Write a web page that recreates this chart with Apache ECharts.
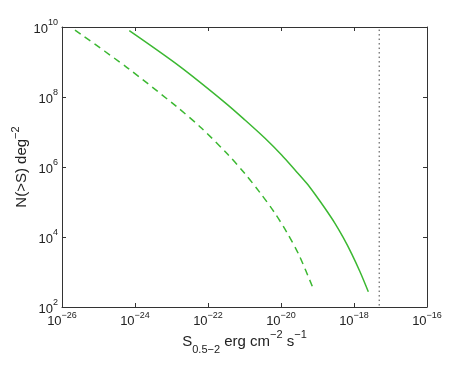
<!DOCTYPE html>
<html>
<head>
<meta charset="utf-8">
<script src="https://cdn.jsdelivr.net/npm/echarts@6/dist/echarts.min.js"></script>
<style>
html,body{margin:0;padding:0;background:#fff;}
#chart{width:471px;height:366px;}
</style>
</head>
<body>
<div id="chart"></div>
<script>
// Axis decades (exponents of 10)
var xExpMin = -26, xExpMax = -16;
var yExpMin = 2, yExpMax = 10;

// Solid curve: flux S and N(>S)
var solidS = [6.98e-25, 1.71e-23, 2.92e-22, 1.03e-21, 3.65e-21, 1.04e-20, 2.42e-20, 5.06e-20, 8.55e-20, 1.60e-19, 3.01e-19, 5.09e-19, 8.65e-19, 1.46e-18, 2.47e-18];
var solidN = [7.83e9, 7.35e8, 6.92e7, 2.20e7, 6.61e6, 2.20e6, 8.20e5, 3.42e5, 1.66e5, 6.61e4, 2.46e4, 9.55e3, 3.31e3, 1.02e3, 2.74e2];

// Dashed curve
var dashS = [2.27e-26, 5.93e-25, 1.39e-23, 6.71e-23, 3.47e-22, 1.03e-21, 2.66e-21, 6.55e-21, 1.43e-20, 3.11e-20, 8.02e-20];
var dashN = [8.20e9, 7.06e8, 5.28e7, 1.28e7, 2.31e6, 6.44e5, 1.85e5, 5.08e4, 1.38e4, 3.06e3, 2.96e2];

// Vertical dotted limit
var limitS = [4.9e-18, 4.9e-18];
var limitN = [1.1e2, 1e10];

// Log-decade axes (values are placed by their log10 on a linear value axis)
function zipLog(a, b) { return a.map(function (v, i) { return [Math.log10(v), Math.log10(b[i])]; }); }

var FONT = "'Liberation Sans', Arial, Helvetica, sans-serif";
function powLabel(e) {
  e = Math.round(e);
  return '{b|10}{s|' + (e < 0 ? '\u2212' : '') + Math.abs(e) + '}';
}
var labelRich = {
  b: { fontSize: 13, lineHeight: 17, verticalAlign: 'bottom', fontFamily: FONT, color: '#222' },
  s: { fontSize: 9, lineHeight: 10, verticalAlign: 'top', fontFamily: FONT, color: '#222' }
};
var axisLine = { show: true, onZero: false, lineStyle: { color: '#333', width: 1 } };
var axisTick = { show: true, inside: true, length: 4, lineStyle: { color: '#333', width: 1 } };

var green = '#3cb832';

var chart = echarts.init(document.getElementById('chart'), null, { renderer: 'canvas' });
chart.setOption({
  animation: false,
  backgroundColor: '#fff',
  grid: { left: 62, top: 27, right: 44, bottom: 59, containLabel: false, outerBoundsMode: 'none' },
  xAxis: [{
    type: 'value',
    min: xExpMin, max: xExpMax, interval: 2,
    axisLine: axisLine, axisTick: axisTick, splitLine: { show: false },
    axisLabel: { formatter: powLabel, rich: labelRich, margin: 4 },
    name: '{b|S}{sub|0.5\u22122}{b| erg cm}{sup|\u22122}{b| s}{sup|\u22121}',
    nameLocation: 'middle', nameGap: 22, nameMoveOverlap: false,
    nameTextStyle: {
      rich: {
        b: { fontSize: 15, lineHeight: 26, verticalAlign: 'middle', fontFamily: FONT, color: '#222' },
        sub: { fontSize: 11, lineHeight: 16, verticalAlign: 'bottom', fontFamily: FONT, color: '#222' },
        sup: { fontSize: 11, lineHeight: 14, verticalAlign: 'top', fontFamily: FONT, color: '#222' }
      }
    }
  }, {
    type: 'value', position: 'top',
    min: xExpMin, max: xExpMax, interval: 2,
    axisLine: axisLine, axisTick: axisTick, axisLabel: { show: false }, splitLine: { show: false }
  }],
  yAxis: [{
    type: 'value',
    min: yExpMin, max: yExpMax, interval: 2,
    axisLine: axisLine, axisTick: axisTick, splitLine: { show: false },
    axisLabel: { formatter: powLabel, rich: labelRich, margin: 4 },
    name: '{b|N(>S) deg}{sup|\u22122}',
    nameLocation: 'middle', nameGap: 28, nameRotate: 90, nameMoveOverlap: false,
    nameTextStyle: {
      rich: {
        b: { fontSize: 15, lineHeight: 24, verticalAlign: 'middle', fontFamily: FONT, color: '#222' },
        sup: { fontSize: 11, lineHeight: 14, verticalAlign: 'top', fontFamily: FONT, color: '#222' }
      }
    }
  }, {
    type: 'value', position: 'right',
    min: yExpMin, max: yExpMax, interval: 2,
    axisLine: axisLine, axisTick: axisTick, axisLabel: { show: false }, splitLine: { show: false }
  }],
  series: [{
    type: 'line', data: zipLog(solidS, solidN), showSymbol: false, smooth: 0.3,
    lineStyle: { color: green, width: 1.5 }
  }, {
    type: 'line', data: zipLog(dashS, dashN), showSymbol: false, smooth: 0.3,
    lineStyle: { color: green, width: 1.5, type: [7, 5] }
  }, {
    type: 'line', data: zipLog(limitS, limitN), showSymbol: false,
    lineStyle: { color: '#444', width: 1, type: [1.5, 3] }
  }]
});
</script>
</body>
</html>
